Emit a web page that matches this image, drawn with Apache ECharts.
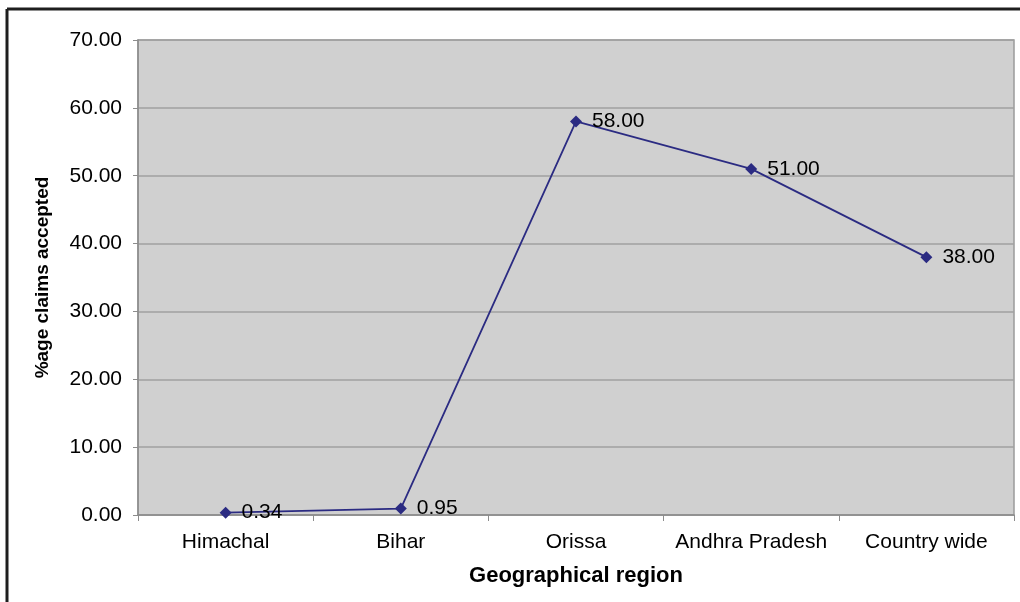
<!DOCTYPE html>
<html>
<head>
<meta charset="utf-8">
<title>%age claims accepted by region</title>
<script src="https://cdn.jsdelivr.net/npm/echarts@6/dist/echarts.min.js"></script>
<style>
  html, body { margin: 0; padding: 0; background: #ffffff; }
  #chart { width: 1020px; height: 602px; }
</style>
</head>
<body>
<div id="chart"></div>
<script>
// Regions and the share of claims accepted in each
const regions = ['Himachal', 'Bihar', 'Orissa', 'Andhra Pradesh', 'Country wide'];
const acceptedPct = [0.34, 0.95, 58.00, 51.00, 38.00];
const yTicks = [0, 10, 20, 30, 40, 50, 60, 70];

const FONT = '"Liberation Sans", Arial, sans-serif';
const chart = echarts.init(document.getElementById('chart'), null, { renderer: 'canvas' });

chart.setOption({
  backgroundColor: '#ffffff',
  animation: false,
  textStyle: { fontFamily: FONT },
  graphic: [
    // frame along the top and left of the figure
    { type: 'line', shape: { x1: 7, y1: 9, x2: 1020, y2: 9 },
      style: { stroke: '#1e1e1e', lineWidth: 3 } },
    { type: 'line', shape: { x1: 7, y1: 9, x2: 7, y2: 602 },
      style: { stroke: '#1e1e1e', lineWidth: 3 } }
  ],
  grid: {
    left: 138, top: 40, right: 6, bottom: 87,
    show: true,
    backgroundColor: '#d0d0d0',
    borderColor: '#9a9a9a',
    borderWidth: 1.5
  },
  xAxis: {
    type: 'category',
    data: regions,
    boundaryGap: true,
    name: 'Geographical region',
    nameLocation: 'middle',
    nameGap: 50,
    nameTextStyle: { fontFamily: FONT, fontSize: 22, fontWeight: 'bold', color: '#000' },
    axisLine: { lineStyle: { color: '#8c8c8c', width: 1.5 } },
    axisTick: { show: true, interval: 0, length: 6, lineStyle: { color: '#8c8c8c' } },
    axisLabel: { interval: 0, hideOverlap: false, fontFamily: FONT, fontSize: 21, color: '#000', margin: 17 },
    splitLine: { show: false }
  },
  yAxis: {
    type: 'value',
    min: yTicks[0],
    max: yTicks[yTicks.length - 1],
    interval: yTicks[1] - yTicks[0],
    name: '%age claims accepted',
    nameLocation: 'middle',
    nameRotate: 90,
    nameGap: 86,
    nameTextStyle: { fontFamily: FONT, fontSize: 19, fontWeight: 'bold', color: '#000' },
    axisLine: { show: true, lineStyle: { color: '#8c8c8c', width: 1.5 } },
    axisTick: { show: true, length: 5, lineStyle: { color: '#8c8c8c' } },
    axisLabel: {
      fontFamily: FONT, fontSize: 21, color: '#000', margin: 16,
      formatter: v => v.toFixed(2)
    },
    splitLine: { show: true, lineStyle: { color: '#a0a0a0', width: 1.5 } }
  },
  series: [{
    type: 'line',
    data: acceptedPct,
    symbol: 'diamond',
    symbolSize: [12, 12],
    lineStyle: { color: '#2b2b82', width: 1.8 },
    itemStyle: { color: '#2b2b82' },
    label: {
      show: true,
      position: 'right',
      distance: 10,
      fontFamily: FONT,
      fontSize: 21,
      color: '#000',
      formatter: p => p.value.toFixed(2)
    }
  }]
});
</script>
</body>
</html>
